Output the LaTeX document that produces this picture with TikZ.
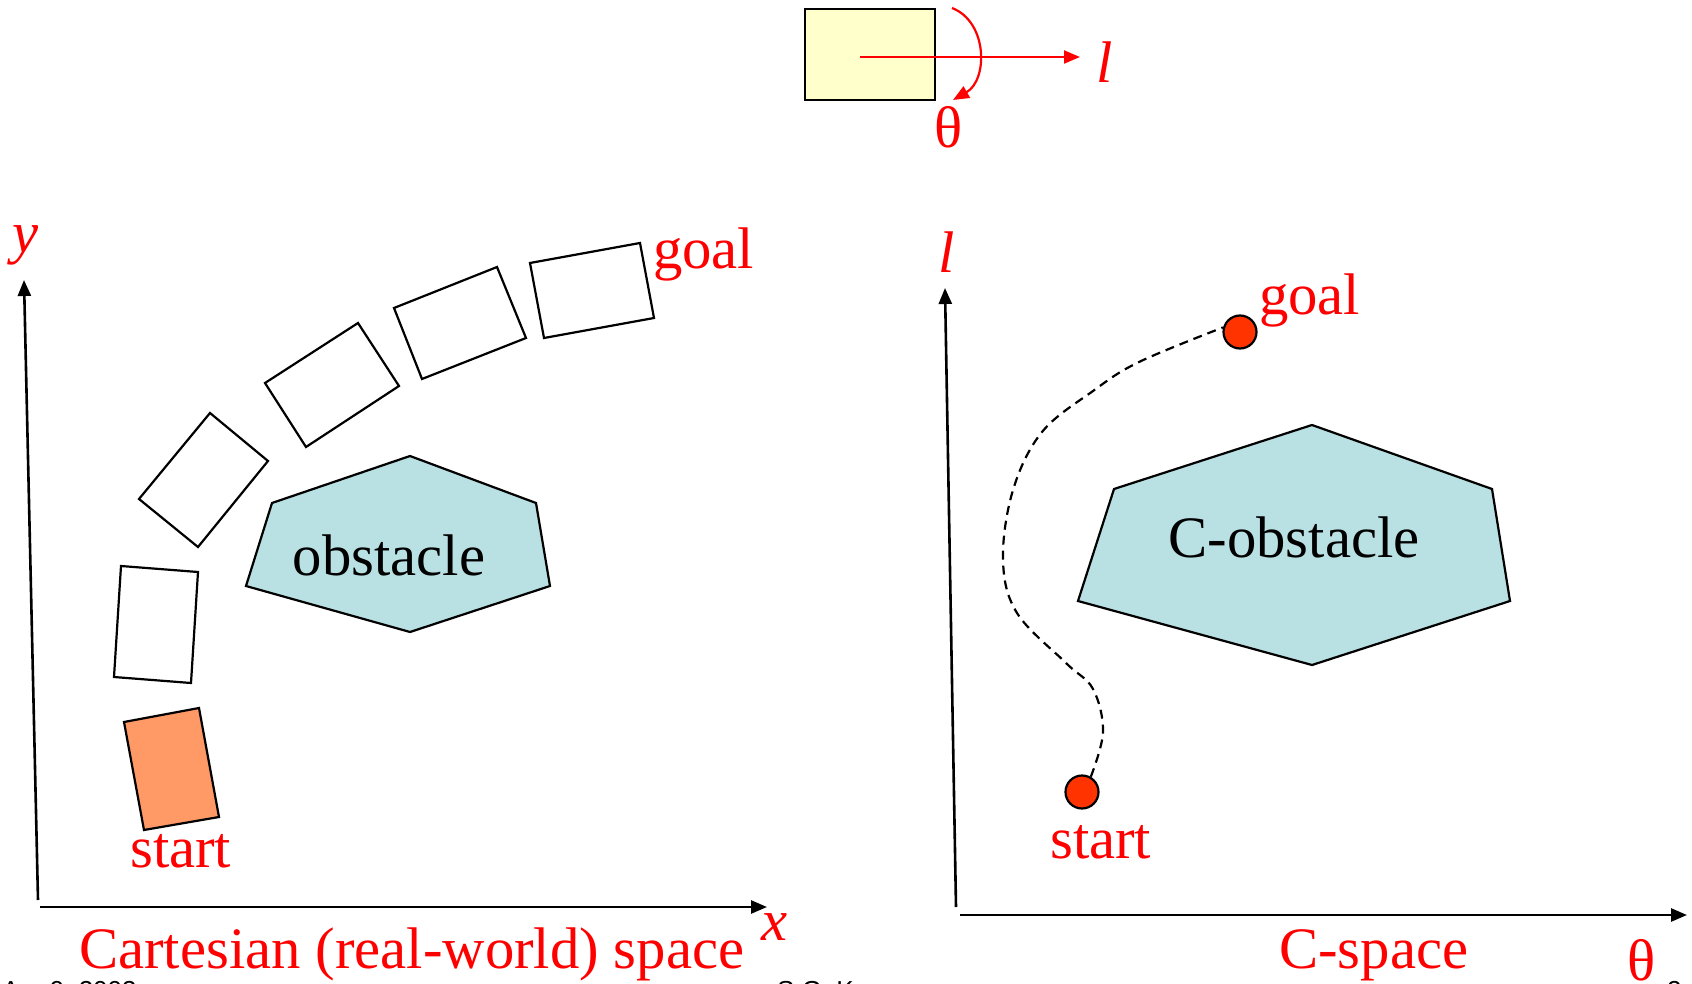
\documentclass[tikz,border=0pt]{standalone}
\usepackage{fontspec}
\setmainfont{Liberation Serif}
\newfontfamily\footfont{Liberation Sans}
\usetikzlibrary{arrows.meta}
\definecolor{obsblue}{RGB}{185,224,227}
\definecolor{robyellow}{RGB}{255,255,204}
\definecolor{startorange}{RGB}{255,153,102}
\definecolor{dotred}{RGB}{255,51,0}
\tikzset{
  axis/.style={line width=2.6pt,-{Triangle[length=16pt,width=13pt]}},
  pose/.style={draw=black,line width=2.2pt,line join=miter},
  obst/.style={draw=black,fill=obsblue,line width=2.2pt},
  redlbl/.style={text=red,inner sep=0pt,font=\fontsize{58.7}{62}\selectfont},
  redit/.style={text=red,inner sep=0pt,font=\fontsize{58.7}{62}\selectfont\itshape},
  blklbl/.style={text=black,inner sep=0pt,font=\fontsize{58.7}{62}\selectfont},
  cdot/.style={circle,draw=black,fill=dotred,line width=2.2pt,minimum size=33pt,inner sep=0pt},
  redarrow/.style={draw=red,line width=2.2pt,-{Triangle[length=16pt,width=13pt]}},
  foot/.style={text=black,inner sep=0pt,font=\footfont\fontsize{26}{28}\selectfont}
}
\begin{document}
\begin{tikzpicture}[x=1pt,y=-1pt]
\clip (0,0) rectangle (1692,984);
\fill[white] (0,0) rectangle (1692,984);

% ---------- top robot ----------
\node[draw=black,fill=robyellow,line width=2.2pt,minimum width=130pt,minimum height=91pt,inner sep=0pt] (robot) at (870,54.5) {};
\coordinate (lstart) at (860,57);
\coordinate (lend) at (1080,57);
\draw[redarrow] (lstart) -- (lend);
\node[redit] (ltop) at (1105,62) {l};
\coordinate (tstart) at (952,8);
\coordinate (tend) at (953,100);
\draw[redarrow] (tstart) .. controls (988,22) and (988,80) .. (tend);
\node[redlbl] (thtop) at (949,127) {θ};

% ---------- left panel: Cartesian space ----------
\coordinate (origL) at (38,900);
\coordinate (ytip) at (24,280);
\coordinate (xorig) at (40,907);
\coordinate (xtip) at (767,907);
\draw[axis] (origL) -- (ytip);
\draw[axis] (xorig) -- (xtip);
\node[redit] (ylbl) at (26,245) {y};
\node[redit] (xlbl) at (775,927) {x};
\node[redlbl,anchor=base west] (cart) at (79,968) {Cartesian (real-world) space};

% obstacle
\draw[obst] (410,456) -- (536,503) -- (550,586) -- (410,632) -- (246,586) -- (272,503) -- cycle;
\node[blklbl,anchor=base] (obs) at (389,575) {obstacle};

% poses
\draw[pose,fill=startorange] (124,722) -- (199,708) -- (219,817) -- (144,830) -- cycle;
\draw[pose] (121,566) -- (198,572) -- (191,683) -- (114,677) -- cycle;
\draw[pose] (139,499) -- (210,413) -- (268,461) -- (198,547) -- cycle;
\draw[pose] (265,383) -- (358,323) -- (399,386) -- (306,447) -- cycle;
\draw[pose] (394,308) -- (497,267) -- (526,338) -- (422,379) -- cycle;
\draw[pose] (530,263) -- (640,243) -- (654,318) -- (544,338) -- cycle;
\node[redlbl,anchor=base west] (startL) at (130,867) {start};
\node[redlbl,anchor=base west] (goalL) at (653,269) {goal};

% ---------- right panel: C-space ----------
\coordinate (origR) at (956,907);
\coordinate (ltip) at (945,288);
\coordinate (thorig) at (960,915);
\coordinate (thtip) at (1687,915);
\draw[axis] (origR) -- (ltip);
\draw[axis] (thorig) -- (thtip);
\node[redit] (llbl) at (947,252) {l};
\node[redlbl] (thlbl) at (1642,960) {θ};
\node[redlbl,anchor=base west] (cspace) at (1279,968) {C-space};

\draw[obst] (1312,425) -- (1492,489) -- (1510,601) -- (1312,665) -- (1078,601) -- (1114,489) -- cycle;
\node[blklbl,anchor=base] (cobs) at (1294,557) {C-obstacle};

\node[cdot] (startdot) at (1082,792) {};
\node[cdot] (goaldot) at (1240,332) {};
\draw[black,line width=2.2pt,dash pattern=on 9pt off 6pt]
  plot[smooth,tension=0.6] coordinates {(startdot.60) (1103,732) (1093,689) (1066,663) (1017,613) (1003,560) (1013,490) (1042,432) (1093,391) (1139,362) (goaldot.165)};
\node[redlbl,anchor=base west] (startR) at (1050,858) {start};
\node[redlbl,anchor=base west] (goalR) at (1259,315) {goal};

% ---------- footer (cut off) ----------
\node[foot,anchor=base west] (date) at (2,999) {Apr 9, 2003};
\node[foot,anchor=base west] (auth) at (777,999) {S.G. K};
\node[foot,anchor=base west] (page) at (1667,999) {2};
\end{tikzpicture}
\end{document}
